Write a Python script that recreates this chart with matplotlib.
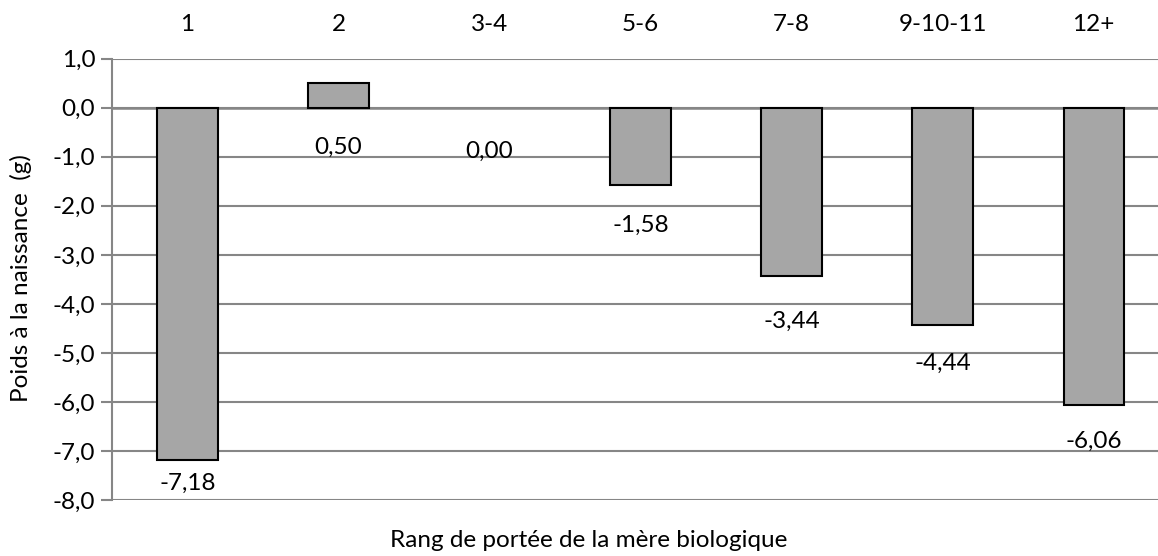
import matplotlib
matplotlib.use("Agg")
import matplotlib.pyplot as plt
from matplotlib.ticker import FuncFormatter

# --- data ---
categories = ["1", "2", "3-4", "5-6", "7-8", "9-10-11", "12+"]
values = [-7.18, 0.50, 0.00, -1.58, -3.44, -4.44, -6.06]
y_ticks = [1, 0, -1, -2, -3, -4, -5, -6, -7, -8]

# label offsets below the bar end / zero line (pixels)
label_offsets = [24, 40, 44, 40, 45, 38, 36]

plt.rcParams["font.family"] = ["Lato", "DejaVu Sans"]
grid_col = "#868686"
fs = 17.5

fig = plt.figure(figsize=(11.58, 5.56), dpi=100)
ax = fig.add_axes([0.0967, 0.1007, 0.913, 0.7937])

x = range(len(categories))
bars = ax.bar(x, values, width=0.40, color="#a6a6a6", edgecolor="black",
              linewidth=1.5, zorder=3)
for b, v in zip(bars, values):
    if v == 0:
        b.set_linewidth(0)

for i, v in enumerate(values):
    base = min(v, 0)
    ax.annotate(f"{v:.2f}".replace(".", ","), xy=(i, base),
                xytext=(0, -label_offsets[i]), textcoords="offset pixels",
                ha="center", va="center", fontsize=fs, color="black",
                zorder=4)

ax.set_xlim(-0.5, len(categories) - 0.5)
ax.set_ylim(-8, 1)
ax.set_yticks(y_ticks)
ax.yaxis.set_major_formatter(FuncFormatter(lambda v, p: f"{v:.1f}".replace(".", ",")))
ax.tick_params(axis="y", length=8, width=1.5, color=grid_col, labelsize=fs, pad=4)

ax.xaxis.tick_top()
ax.set_xticks(list(x))
ax.set_xticklabels(categories)
ax.tick_params(axis="x", length=0, labelsize=fs, pad=17)

ax.grid(axis="y", color=grid_col, linewidth=1.5, zorder=0)
ax.axhline(0, color=grid_col, linewidth=1.8, zorder=2)
for s in ["top", "right", "bottom"]:
    ax.spines[s].set_visible(False)
ax.spines["left"].set_color(grid_col)
ax.spines["left"].set_linewidth(1.5)

fig.text(0.018, 0.50, "Poids à la naissance  (g)", rotation=90,
         ha="center", va="center", fontsize=fs)
fig.text(0.508, 0.027, "Rang de portée de la mère biologique",
         ha="center", va="center", fontsize=fs)

fig.savefig("out.png", dpi=100)
